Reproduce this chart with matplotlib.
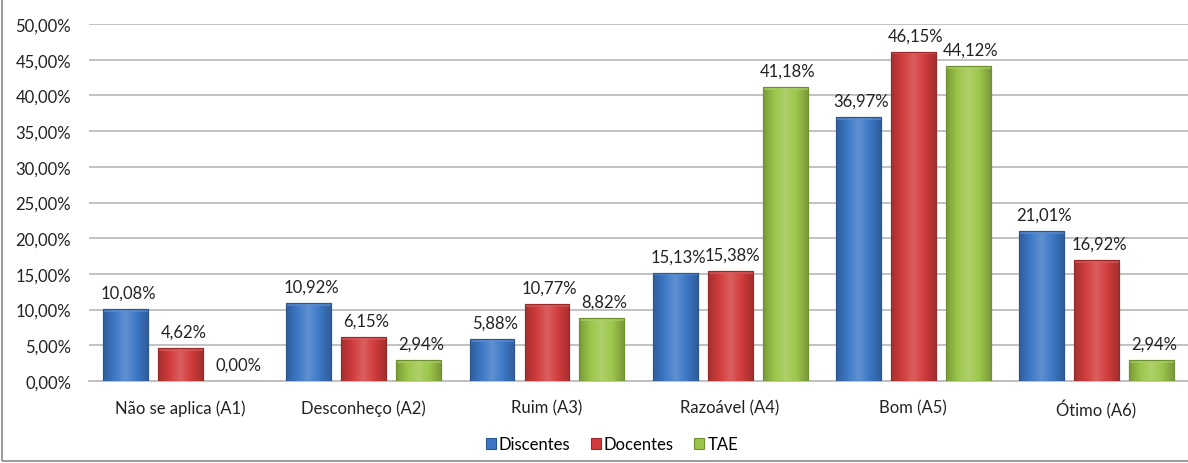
import numpy as np
import matplotlib.pyplot as plt
from matplotlib.patches import Rectangle
from matplotlib.colors import LinearSegmentedColormap, to_rgb

categorias = ['Não se aplica (A1)', 'Desconheço (A2)', 'Ruim (A3)',
              'Razoável (A4)', 'Bom (A5)', 'Ótimo (A6)']
series = ['Discentes', 'Docentes', 'TAE']
discentes = [10.08, 10.92, 5.88, 15.13, 36.97, 21.01]
docentes = [4.62, 6.15, 10.77, 15.38, 46.15, 16.92]
tae = [0.00, 2.94, 8.82, 41.18, 44.12, 2.94]
yticks = [0, 5, 10, 15, 20, 25, 30, 35, 40, 45, 50]

cores = ['#3d78c6', '#d23c3c', '#9cc64a']
bordas = ['#2a5590', '#962a2a', '#6e8f30']


def fmt(v):
    return f'{v:.2f}%'.replace('.', ',')


def main():
    plt.rcParams['font.family'] = ['Lato', 'DejaVu Sans']
    fig = plt.figure(figsize=(11.88, 4.64), dpi=100)
    ax = fig.add_axes([0.075, 0.1767, 0.925, 0.7693])

    x = np.arange(len(categorias))
    w = 0.245
    step = 0.30
    dados = [discentes, docentes, tae]
    fs = 12

    for k, vals in enumerate(dados):
        pos = x + (k - 1) * step
        bars = ax.bar(pos, vals, w, color=cores[k], edgecolor=bordas[k],
                      linewidth=0.8, label=series[k], zorder=3)
        # efeito de bisel: gradiente horizontal claro no centro
        c = np.array(to_rgb(cores[k]))
        escuro = c * 0.78
        claro = np.clip(c + (1 - c) * 0.18, 0, 1)
        cmap = LinearSegmentedColormap.from_list(
            'b', [escuro, c, claro, c, escuro])
        grad = np.linspace(0, 1, 64).reshape(1, -1)
        for b, v in zip(bars, vals):
            x0, y0 = b.get_x(), b.get_y()
            bw, bh = b.get_width(), b.get_height()
            ax.annotate(fmt(v), (x0 + bw / 2, y0 + bh), xytext=(2, 6),
                        textcoords='offset points', ha='center', va='bottom',
                        fontsize=fs, color='#222222', zorder=5)
            if v <= 0:
                continue
            im = ax.imshow(grad, cmap=cmap, aspect='auto',
                           extent=(x0, x0 + bw, y0, y0 + bh), zorder=3.5)
            im.set_clip_path(b)
            # faixa clara no topo
            ax.add_patch(Rectangle((x0, y0 + bh - min(0.35, bh * 0.15)), bw,
                                   min(0.35, bh * 0.15), color=claro,
                                   alpha=0.6, zorder=3.6, linewidth=0))
            ax.add_patch(Rectangle((x0, y0), bw, bh, fill=False,
                                   edgecolor=bordas[k], linewidth=0.8,
                                   zorder=3.7))

    ax.set_xlim(-0.5, len(categorias) - 0.5)
    ax.set_ylim(0, 50)
    ax.set_yticks(yticks)
    ax.set_yticklabels([fmt(t) for t in yticks], fontsize=fs, color='#222222')
    ax.set_xticks(x)
    ax.set_xticklabels(categorias, fontsize=fs, color='#222222')
    ax.tick_params(axis='both', length=0)
    ax.tick_params(axis='y', pad=13)
    ax.tick_params(axis='x', pad=13)
    ax.grid(axis='y', color='#bdbdbd', linewidth=1.3, zorder=0)
    for s in ['left', 'right', 'top']:
        ax.spines[s].set_visible(False)
    ax.spines['bottom'].set_color('#bdbdbd')
    ax.spines['bottom'].set_linewidth(1.3)

    handles = [Rectangle((0, 0), 1, 1, facecolor=cores[i],
                         edgecolor=bordas[i], linewidth=0.8) for i in range(3)]
    fig.legend(handles, series, loc='center', bbox_to_anchor=(0.515, 0.04),
               ncol=3, frameon=False, fontsize=fs, handlelength=0.6,
               handleheight=0.6, handletextpad=0.2, columnspacing=1.2)

    fig.patches.append(Rectangle((0.002, 0.004), 1.2, 1.2,
                                 transform=fig.transFigure, fill=False,
                                 edgecolor='#888888', linewidth=1.2))
    fig.savefig('out.png', dpi=100)


if __name__ == '__main__':
    main()
